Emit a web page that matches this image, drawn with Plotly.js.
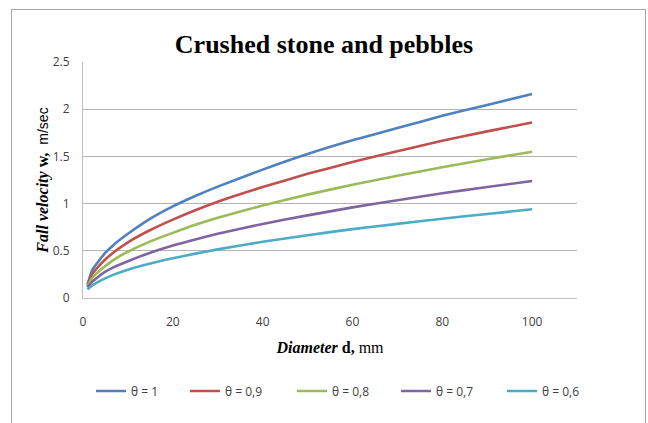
<!DOCTYPE html>
<html>
<head>
<meta charset="utf-8">
<script src="https://cdn.plot.ly/plotly-3.0.1.min.js"></script>
<style>
  html, body { margin: 0; padding: 0; background: #ffffff; }
  #wrap { position: relative; width: 648px; height: 423px; overflow: hidden; }
  #chart { width: 648px; height: 423px; }
  #frame { position: absolute; left: 11px; top: 9px; width: 633px; height: 430px;
           border: 1px solid #a6a6a6; pointer-events: none; }
</style>
</head>
<body>
<div id="wrap">
  <div id="chart"></div>
  <div id="frame"></div>
</div>
<script>
// Diameter d, mm
const diameter = [1, 2, 3, 5, 7, 10, 15, 20, 25, 30, 40, 50, 60, 70, 80, 90, 100];
// Fall velocity w, m/sec
const theta10 = [0.14, 0.29, 0.36, 0.48, 0.57, 0.68, 0.84, 0.97, 1.08, 1.18, 1.36, 1.525, 1.67, 1.80, 1.93, 2.045, 2.16];
const theta09 = [0.13, 0.25, 0.31, 0.41, 0.49, 0.59, 0.72, 0.83, 0.93, 1.02, 1.175, 1.315, 1.44, 1.555, 1.665, 1.765, 1.86];
const theta08 = [0.12, 0.21, 0.26, 0.34, 0.41, 0.49, 0.60, 0.69, 0.775, 0.85, 0.98, 1.095, 1.20, 1.295, 1.385, 1.47, 1.55];
const theta07 = [0.11, 0.17, 0.21, 0.28, 0.33, 0.39, 0.48, 0.555, 0.62, 0.68, 0.785, 0.875, 0.96, 1.035, 1.11, 1.175, 1.24];
const theta06 = [0.09, 0.13, 0.16, 0.21, 0.25, 0.30, 0.365, 0.42, 0.47, 0.515, 0.595, 0.665, 0.73, 0.785, 0.84, 0.89, 0.94];
const seriesNames = ['θ = 1', 'θ = 0,9', 'θ = 0,8', 'θ = 0,7', 'θ = 0,6'];
const seriesValues = [theta10, theta09, theta08, theta07, theta06];
const seriesColors = ['#4F81BD', '#C0504D', '#9BBB59', '#8064A2', '#4BACC6'];
const xTicks = [0, 20, 40, 60, 80, 100];
const yTicks = [0, 0.5, 1, 1.5, 2, 2.5];
const yTickText = ['0', '0.5', '1', '1.5', '2', '2.5'];

// one legend box per series, laid out in a row like the original
const legendIds = ['legend', 'legend2', 'legend3', 'legend4', 'legend5'];
const legendLeft = [91, 185, 292, 396, 502]; // px from the left edge of the figure

const traces = seriesValues.map((vals, i) => ({
  x: diameter,
  y: vals,
  name: seriesNames[i],
  legend: legendIds[i],
  type: 'scatter',
  mode: 'lines',
  line: { color: seriesColors[i], width: 2.6, shape: 'spline', smoothing: 0.5 }
}));

const tickFont = { family: '"Open Sans", Arial, sans-serif', size: 12, color: '#404040' };

const layout = {
  width: 648,
  height: 423,
  paper_bgcolor: '#ffffff',
  plot_bgcolor: '#ffffff',
  margin: { l: 83, r: 71, t: 62, b: 125 },
  title: {
    text: '<b>Crushed stone and pebbles</b>',
    font: { family: '"Liberation Serif", "Times New Roman", serif', size: 26, color: '#000000' },
    x: 0.5, xanchor: 'center',
    y: 1, yref: 'paper', yanchor: 'bottom', pad: { b: 9 }
  },
  xaxis: {
    range: [0, 110],
    tickvals: xTicks,
    ticktext: xTicks.map(String),
    showgrid: false,
    zeroline: false,
    showline: true,
    linecolor: '#bfbfbf',
    linewidth: 1,
    ticks: '',
    ticklabelstandoff: 13,
    tickfont: tickFont,
    title: {
      text: '<b><i>Diameter</i> d,</b> mm',
      font: { family: '"Liberation Serif", "Times New Roman", serif', size: 16, color: '#000000' },
      standoff: 12
    },
    fixedrange: true
  },
  yaxis: {
    range: [0, 2.5],
    tickvals: yTicks,
    ticktext: yTickText,
    showgrid: true,
    gridcolor: '#b3b3b3',
    gridwidth: 1,
    zeroline: false,
    showline: true,
    linecolor: '#bfbfbf',
    linewidth: 1,
    ticks: '',
    ticklabelstandoff: 10,
    tickfont: tickFont,
    title: {
      text: '<b><i>Fall velocity</i> w,</b>  <span style="font-family:\'Liberation Sans\', Arial, sans-serif;font-size:14px">m/sec</span>',
      font: { family: '"Liberation Serif", "Times New Roman", serif', size: 16, color: '#000000' },
      standoff: 0
    },
    fixedrange: true
  },
  showlegend: true
};

legendIds.forEach((id, i) => {
  layout[id] = {
    orientation: 'h',
    xref: 'container', yref: 'container',
    x: legendLeft[i] / 648, xanchor: 'left',
    y: 0.0757, yanchor: 'middle',
    font: { family: '"Open Sans", Arial, sans-serif', size: 12, color: '#404040' },
    itemwidth: 30,
    bgcolor: 'rgba(0,0,0,0)'
  };
});

Plotly.newPlot('chart', traces, layout, { displayModeBar: false, staticPlot: true });
</script>
</body>
</html>
